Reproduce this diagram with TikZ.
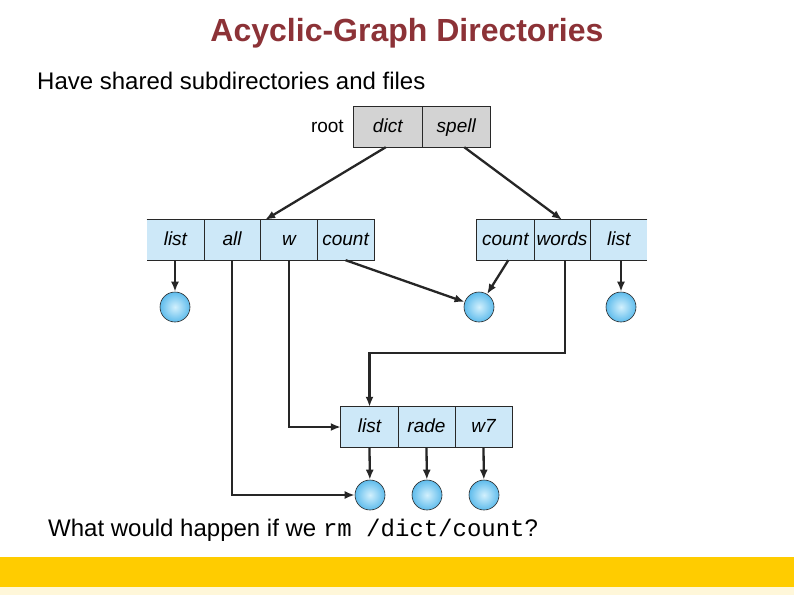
\documentclass[tikz,border=0pt]{standalone}
\usepackage{fontspec}
\setmainfont{Liberation Sans}
\setmonofont{Liberation Mono}
\usetikzlibrary{arrows.meta,calc}
\definecolor{titlered}{RGB}{140,50,55}
\definecolor{cellblue}{RGB}{205,232,248}
\definecolor{cellgray}{RGB}{211,211,211}
\definecolor{ballin}{RGB}{210,240,253}
\definecolor{ballout}{RGB}{95,188,236}
\definecolor{baryellow}{RGB}{255,204,0}
\definecolor{edge}{RGB}{40,40,40}
\tikzset{
  cellbox/.style={rectangle, inner sep=0pt, minimum height=40pt, minimum width=57pt,
    text height=14pt, text depth=4pt,
    fill=cellblue, font=\fontsize{19}{22}\selectfont\itshape},
  graycell/.style={cellbox, fill=cellgray, minimum width=68.5pt},
  border/.style={draw=edge, line width=0.8pt},
  fileball/.style={circle, minimum size=30pt, inner sep=0pt, draw=edge, line width=0.6pt,
    inner color=ballin, outer color=ballout},
  arr/.style={draw=black!85, line width=2.3pt, -{Latex[length=10pt,width=8pt]}},
}
\begin{document}
\begin{tikzpicture}[x=1pt,y=-1pt]
\useasboundingbox (0,0) rectangle (794,595);
\fill[white] (0,0) rectangle (794,595);
% yellow bar
\fill[baryellow] (0,557) rectangle (794,587);
\fill[baryellow!15] (0,587) rectangle (794,595);
% titles
\node[font=\fontsize{32}{38}\selectfont\bfseries, text=titlered] (title) at (407,33) {Acyclic-Graph Directories};
\node[font=\fontsize{24}{28}\selectfont, anchor=west, inner sep=0pt] (sub) at (37,81) {Have shared subdirectories and files};
\node[font=\fontsize{24}{28}\selectfont, anchor=west, inner sep=0pt] (question) at (48,530) {What would happen if we \texttt{rm /dict/count}?};
% root directory
\node[graycell] (rd) at (387.75,127) {dict};
\node[graycell] (rs) at (456.25,127) {spell};
\draw[border] (rd.north west) rectangle (rs.south east);
\draw[border] (rd.north east) -- (rd.south east);
\node[font=\fontsize{19}{22}\selectfont, anchor=east, text height=14pt, text depth=4pt] (rootlbl) at ($(rd.west)+(-6,0)$) {root};
% left directory (dict)
\node[cellbox] (ll) at (175.4,240) {list};
\node[cellbox] (la) at (232.1,240) {all};
\node[cellbox] (lw) at (288.9,240) {w};
\node[cellbox] (lc) at (345.6,240) {count};
\draw[border] (ll.north west) -- (lc.north east) -- (lc.south east) -- (ll.south west);
\draw[border] (ll.north east) -- (ll.south east);
\draw[border] (la.north east) -- (la.south east);
\draw[border] (lw.north east) -- (lw.south east);
% right directory (spell)
\node[cellbox] (rc) at (505.3,240) {count};
\node[cellbox] (rw) at (562,240) {words};
\node[cellbox] (rl) at (618.7,240) {list};
\draw[border] (rl.north east) -- (rc.north west) -- (rc.south west) -- (rl.south east);
\draw[border] (rc.north east) -- (rc.south east);
\draw[border] (rw.north east) -- (rw.south east);
% bottom directory
\node[cellbox] (bl) at (369.5,427) {list};
\node[cellbox] (br) at (426.5,427) {rade};
\node[cellbox] (bw) at (483.5,427) {w7};
\draw[border] (bl.north west) rectangle (bw.south east);
\draw[border] (bl.north east) -- (bl.south east);
\draw[border] (br.north east) -- (br.south east);
% files
\node[fileball] (f1) at (175,307) {};
\node[fileball] (f2) at (479,307) {};
\node[fileball] (f3) at (621,307) {};
\node[fileball] (f4) at (370,495) {};
\node[fileball] (f5) at (427,495) {};
\node[fileball] (f6) at (484,495) {};
% connectors
\draw[arr] ($(rd.south)+(-2,0)$) -- ($(lw.north west)+(5,0)$);
\draw[arr] ($(rs.south)+(8,0)$) -- (rw.north);
\draw[arr] (f1 |- ll.south) -- (f1);
\draw[arr] (la.south) |- (f4.west);
\draw[arr] (lw.south) |- (bl.west);
\draw[arr] (lc.south) -- (f2);
\draw[arr] ($(rc.south)+(3,0)$) -- (f2);
\draw[arr] ($(rw.south)+(3,0)$) -- ++(0,93) -| (bl.north);
\draw[arr] (f3 |- rl.south) -- (f3);
\draw[arr] (bl.south) -- (f4);
\draw[arr] (br.south) -- (f5);
\draw[arr] (bw.south) -- (f6);
\end{tikzpicture}
\end{document}
